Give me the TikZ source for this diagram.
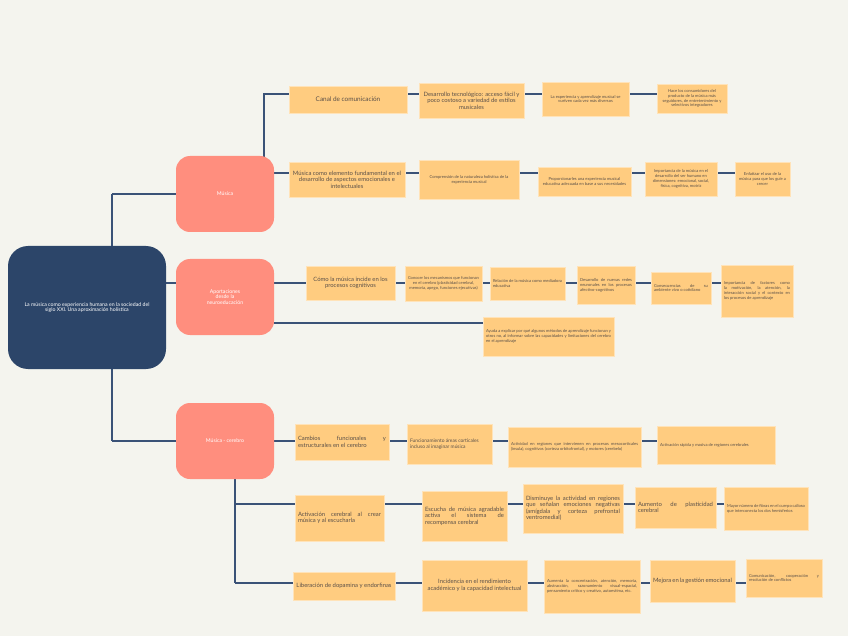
\documentclass[tikz,border=0pt]{standalone}
\usepackage{fontspec}
\setmainfont{Lato}
\usepackage{tikz}
\usetikzlibrary{positioning, backgrounds}

\definecolor{bgcream}{HTML}{F4F4EE}
\definecolor{navy}{HTML}{2C4569}
\definecolor{salmon}{HTML}{FF8E7E}
\definecolor{peach}{HTML}{FFCC80}
\definecolor{linkblue}{HTML}{3A5277}
\definecolor{inkgray}{HTML}{5B5048}

\hyphenpenalty=10000
\exhyphenpenalty=10000
\tolerance=9999
\emergencystretch=20pt

\begin{document}
\begin{tikzpicture}[
			x=1pt, y=-1pt,
			root/.style={
				fill=navy,
				rectangle,
				rounded corners=20pt,
				align=flush center,
				text=white,
				minimum width=158pt,
				minimum height=123pt,
				text width=148pt,
				font=\fontsize{5.2}{5.7}\selectfont
			},
			topic/.style={
				fill=salmon,
				rectangle,
				rounded corners=14pt,
				align=flush center,
				text=white,
				minimum width=98pt,
				minimum height=76pt,
				text width=70pt,
				font=\fontsize{5.2}{5.8}\selectfont
			},
			box/.style 2 args={
				draw=peach!55!white,
				line width=0.4pt,
				fill=peach,
				rectangle,
				text=inkgray,
				align=flush center,
				inner xsep=3pt,
				inner ysep=2pt,
				minimum width=#1pt,
				minimum height=#2pt,
				text width=#1pt-6pt
			},
			txtbig/.style={font=\fontsize{6.4}{7.4}\selectfont},
			txtmid/.style={font=\fontsize{5.9}{6.5}\selectfont},
			txtsmall/.style={font=\fontsize{4.1}{4.9}\selectfont},
			link/.style={draw=linkblue, line width=1.7pt}
			]
			
			\useasboundingbox (0,0) rectangle (848,636);
			
			% centre and level 1
			\node[root] (root) at (87,307.5) {La música como experiencia humana en la sociedad del\\siglo XXI. Una aproximación holística};
			\node[topic] (musica) at (225,194) {Música};
			\node[topic] (neuro) at (225,297) {Aportaciones\\desde la\\neuroeducación};
			\node[topic] (cerebro) at (225,441) {Música - cerebro};
			
			% Música
			\node[box={118}{27}, txtbig] (canal) at (348,99.5) {Canal de comunicación};
			\node[box={105}{35}, txtmid] (tecno) at (471.5,100.5) {Desarrollo tecnológico: acceso fácil y poco costoso a variedad de estilos musicales};
			\node[box={87}{34}, txtsmall] (experiencia) at (585.5,99) {La experiencia y aprendizaje musical se vuelven cada vez más diversos};
			\node[box={70}{29}, txtsmall] (consumo) at (692,98.5) {Hace los consumidores del producto de la música más seguidores, de entretenimiento y selectivos integradores};
			
			\node[box={116}{35}, txtmid] (elemento) at (347,179.5) {Música como elemento fundamental en el desarrollo de aspectos emocionales e intelectuales};
			\node[box={100}{39}, txtsmall] (holistica) at (469,179.5) {Comprensión de la naturaleza holística de la experiencia musical};
			\node[box={93}{29}, txtsmall] (educativa) at (584.5,181.5) {Proporcionarles una experiencia musical educativa adecuada en base a sus necesidades};
			\node[box={72}{34}, txtsmall] (humano) at (681,179) {Importancia de la música en el desarrollo del ser humano en dimensiones: emocional, social, física, cognitiva, motriz};
			\node[box={55}{34}, txtsmall] (enfatizar) at (762.5,179) {Enfatizar el uso de la música para que los guíe a crecer};
			
			% Neuroeducación
			\node[box={89}{34}, txtmid] (incide) at (350.5,283) {Cómo la música incide en los procesos cognitivos};
			\node[box={77}{35}, txtsmall] (mecanismos) at (443.5,283.5) {Conocer los mecanismos que funcionan en el cerebro (plasticidad cerebral, memoria, apego, funciones ejecutivas)};
			\node[box={75}{33}, txtsmall, align=justify] (mediadora) at (527.5,283.5) {Relación de la música como mediadora educativa};
			\node[box={58}{38}, txtsmall, align=justify] (redes) at (606,285) {Desarrollo de nuevas redes neuronales en los procesos afectivo-cognitivos};
			\node[box={60}{32}, txtsmall, align=justify] (ambiente) at (681,288) {Consecuencias de su ambiente vivo o cotidiano};
			\node[box={72}{52}, txtsmall, align=justify] (factores) at (757,291) {Importancia de factores como la motivación, la atención, la interacción social y el contexto en los procesos de aprendizaje};
			\node[box={131}{39}, txtsmall, align=justify] (metodos) at (548.5,336.5) {Ayuda a explicar por qué algunos métodos de aprendizaje funcionan y otros no, al informar sobre las capacidades y limitaciones del cerebro en el aprendizaje};
			
			% Música - cerebro
			\node[box={94}{36}, txtmid, align=justify] (cambios) at (342,442) {Cambios funcionales y estructurales en el cerebro};
			\node[box={85}{40}, font=\fontsize{4.9}{5.6}\selectfont, align=flush left] (corticales) at (449.5,444) {Funcionamiento áreas corticales\\incluso al imaginar música};
			\node[box={133}{40}, txtsmall, align=justify] (regiones) at (574.5,447) {Actividad en regiones que intervienen en procesos mesocorticales (ínsula), cognitivos (corteza orbitofrontal), y motores (cerebelo)};
			\node[box={118}{38}, txtsmall, align=justify] (rapida) at (716,445) {Activación rápida y masiva de regiones cerebrales};
			
			\node[box={89}{46}, txtmid, align=justify] (crear) at (339.5,518) {Activación cerebral al crear música y al escucharla};
			\node[box={85}{50}, txtmid, align=justify] (recompensa) at (464.5,516) {Escucha de música agradable activa el sistema de recompensa cerebral};
			\node[box={100}{49}, txtmid, align=justify] (negativas) at (573,508.5) {Disminuye la actividad en regiones que señalan emociones negativas (amígdala y corteza prefrontal ventromedial)};
			\node[box={81}{41}, txtmid, align=justify] (plasticidad) at (675.5,507.5) {Aumento de plasticidad cerebral};
			\node[box={84}{43}, txtsmall, align=justify] (calloso) at (766,508.5) {Mayor número de fibras en el cuerpo calloso que interconecta los dos hemisferios};
			
			\node[box={102}{28}, txtmid] (dopamina) at (344,586) {Liberación de dopamina y endorfinas};
			\node[box={105}{51}, txtmid] (rendimiento) at (474.5,585.5) {Incidencia en el rendimiento académico y la capacidad intelectual};
			\node[box={96}{53}, txtsmall, align=justify] (concentracion) at (592,586.5) {Aumenta la concentración, atención, memoria, abstracción, razonamiento visual-espacial, pensamiento crítico y creativo, autoestima, etc.};
			\node[box={85}{42}, txtmid, align=justify] (emocional) at (692.5,581) {Mejora en la gestión emocional};
			\node[box={76}{38}, txtsmall, align=justify] (conflictos) at (784,578) {Comunicación, cooperación y resolución de conflictos};
			
			\coordinate (trunktop) at (112,194);
			\coordinate (trunkbot) at (112,441);
			\coordinate (musicabend) at (264,194);
			\coordinate (cerebrotop) at (235,470);
			\coordinate (cerebrobend) at (235,583);
			
			\begin{scope}[on background layer]
			\fill[bgcream] (0,0) rectangle (848,636);
			
			\draw[link] (trunktop) -- (trunkbot);
			\draw[link] (trunktop) -- (musica);
			\draw[link] (trunkbot) -- (cerebro);
			\draw[link] (root.east |- 0,283) -- (neuro.west |- 0,283);
			
			\draw[link] (musicabend) |- (canal.west |- 0,94);
			\draw[link] (musica.east |- 0,173) -- (elemento.west |- 0,173);
			\draw[link] (neuro.east |- 0,283) -- (incide.west |- 0,283);
			\draw[link] (neuro.east |- 0,323) -- (metodos.west |- 0,323);
			\draw[link] (cerebro.east |- 0,441) -- (cambios.west |- 0,441);
			\draw[link] (cerebrotop) -- (cerebrobend);
			\draw[link] (cerebrotop |- 0,504) -- (crear.west |- 0,504);
			\draw[link] (cerebrobend) -- (dopamina.west |- 0,583);
			
			\draw[link] (canal.east |- 0,94) -- (tecno.west |- 0,94);
			\draw[link] (tecno.east |- 0,94) -- (experiencia.west |- 0,94);
			\draw[link] (experiencia.east |- 0,94) -- (consumo.west |- 0,94);
			
			\draw[link] (elemento.east |- 0,173) -- (holistica.west |- 0,173);
			\draw[link] (holistica.east |- 0,173) -- (educativa.west |- 0,173);
			\draw[link] (educativa.east |- 0,173) -- (humano.west |- 0,173);
			\draw[link] (humano.east |- 0,173) -- (enfatizar.west |- 0,173);
			
			\draw[link] (incide.east |- 0,283) -- (mecanismos.west |- 0,283);
			\draw[link] (mecanismos.east |- 0,283) -- (mediadora.west |- 0,283);
			\draw[link] (mediadora.east |- 0,283) -- (redes.west |- 0,283);
			\draw[link] (redes.east |- 0,283) -- (ambiente.west |- 0,283);
			\draw[link] (ambiente.east |- 0,283) -- (factores.west |- 0,283);
			
			\draw[link] (cambios.east |- 0,441) -- (corticales.west |- 0,441);
			\draw[link] (corticales.east |- 0,441) -- (regiones.west |- 0,441);
			\draw[link] (regiones.east |- 0,441) -- (rapida.west |- 0,441);
			
			\draw[link] (crear.east |- 0,504) -- (recompensa.west |- 0,504);
			\draw[link] (recompensa.east |- 0,504) -- (negativas.west |- 0,504);
			\draw[link] (negativas.east |- 0,504) -- (plasticidad.west |- 0,504);
			\draw[link] (plasticidad.east |- 0,504) -- (calloso.west |- 0,504);
			
			\draw[link] (dopamina.east |- 0,583) -- (rendimiento.west |- 0,583);
			\draw[link] (rendimiento.east |- 0,583) -- (concentracion.west |- 0,583);
			\draw[link] (concentracion.east |- 0,583) -- (emocional.west |- 0,583);
			\draw[link] (emocional.east |- 0,583) -- (conflictos.west |- 0,583);
			\end{scope}
			
		\end{tikzpicture}
\end{document}
